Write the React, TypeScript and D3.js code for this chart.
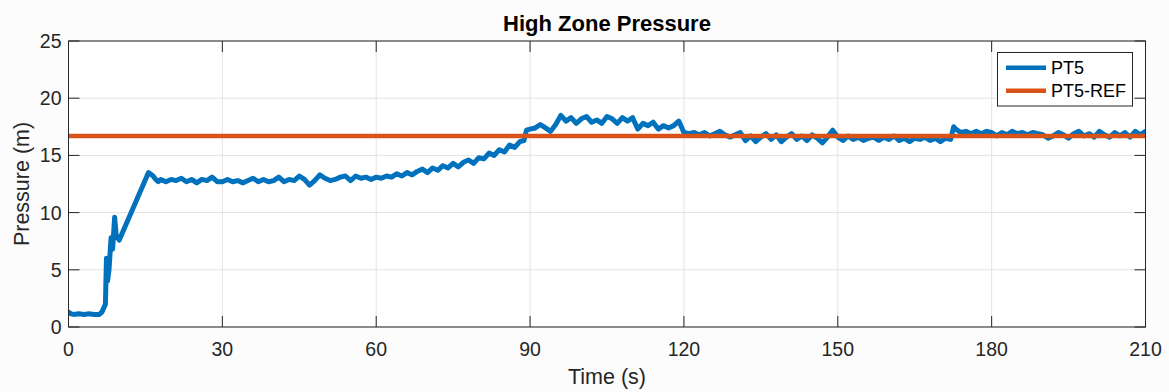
import React, { useEffect, useRef } from "react";
import * as d3 from "d3";

// PT5 pressure trace: [time (s), pressure (m)]
const pt5Series: [number, number][] = [
  [0, 1.3], [0.5, 1.15], [1, 1.1], [2, 1.15], [3, 1.1], [4, 1.15], [5, 1.1], [6, 1.1],
  [6.5, 1.3], [7, 1.8], [7.2, 2.0], [7.4, 6.0], [7.6, 4.0], [7.9, 5.0], [8.3, 7.8],
  [8.6, 6.8], [9.0, 9.6], [9.3, 8.0], [9.9, 7.6], [15.6, 13.5], [16.5, 13.2], [17, 12.9],
  [17.5, 12.7], [18, 12.9],
  [19, 12.7], [20, 12.9], [21, 12.8], [22, 13.0], [23, 12.7], [24, 12.9], [25, 12.6],
  [26, 12.9], [27, 12.8], [28, 13.1], [29, 12.7], [30, 12.7], [31, 12.9], [32, 12.7],
  [33, 12.8], [34, 12.6], [35, 12.8], [36, 13.0], [37, 12.7], [38, 12.9], [39, 12.7],
  [40, 12.8], [41, 13.1], [42, 12.7], [43, 12.9], [44, 12.8], [45, 13.2], [46, 12.9],
  [47, 12.4], [48, 12.8], [49, 13.3], [50, 13.0], [51, 12.8], [52, 12.9], [53, 13.1],
  [54, 13.2], [55, 12.8], [56, 13.2], [57, 13.0], [58, 13.1], [59, 12.9], [60, 13.1],
  [61, 13.0], [62, 13.2], [63, 13.1], [64, 13.4], [65, 13.2], [66, 13.5], [67, 13.3],
  [68, 13.6], [69, 13.8], [70, 13.5], [71, 13.9], [72, 13.7], [73, 14.1], [74, 13.9],
  [75, 14.3], [76, 14.0], [77, 14.4], [78, 14.6], [79, 14.3], [80, 14.8], [81, 14.7],
  [82, 15.2], [83, 15.0], [84, 15.5], [85, 15.3], [86, 15.9], [87, 15.7], [88, 16.2],
  [88.8, 16.3], [89.3, 17.2], [90, 17.3], [91, 17.4], [92, 17.7], [93, 17.4], [94, 17.1],
  [95, 17.7], [96, 18.5], [97, 18.0], [98, 18.3], [99, 17.8], [100, 18.2], [101, 18.4],
  [102, 17.9], [103, 18.1], [104, 17.8], [105, 18.4], [106, 18.2], [107, 17.8], [108, 18.3],
  [109, 18.0], [110, 18.3], [111, 17.3], [112, 17.8], [113, 17.6], [114, 17.9], [115, 17.3],
  [116, 17.6], [117, 17.4], [118, 17.6], [119, 18.0], [120, 17.0], [121, 16.9], [122, 17.0],
  [123, 16.8], [124, 17.0], [125, 16.7], [126, 16.9], [127, 17.1], [128, 16.8], [129, 16.6],
  [130, 16.8], [131, 17.0], [132, 16.3], [133, 16.7], [134, 16.2], [135, 16.6], [136, 16.9],
  [137, 16.4], [138, 16.8], [139, 16.2], [140, 16.6], [141, 16.9], [142, 16.4], [143, 16.7],
  [144, 16.3], [145, 16.8], [146, 16.5], [147, 16.1], [148, 16.6], [149, 17.2], [150, 16.6],
  [151, 16.3], [152, 16.7], [153, 16.4], [154, 16.6], [155, 16.3], [156, 16.5], [157, 16.6],
  [158, 16.3], [159, 16.6], [160, 16.4], [161, 16.7], [162, 16.3], [163, 16.5], [164, 16.2],
  [165, 16.5], [166, 16.4], [167, 16.6], [168, 16.3], [169, 16.5], [170, 16.2], [171, 16.5],
  [172, 16.4], [172.6, 17.5], [173, 17.3], [174, 17.0], [175, 17.1], [176, 16.9], [177, 17.1],
  [178, 16.9], [179, 17.1], [180, 17.0], [181, 16.7], [182, 17.0], [183, 16.8], [184, 17.1],
  [185, 16.9], [186, 17.0], [187, 16.8], [188, 17.0], [189, 16.9], [190, 16.8], [191, 16.5],
  [192, 16.7], [193, 17.0], [194, 16.8], [195, 16.5], [196, 16.9], [197, 17.1], [198, 16.7],
  [199, 16.9], [200, 16.6], [201, 17.1], [202, 16.8], [203, 16.6], [204, 17.0], [205, 16.7],
  [206, 17.0], [207, 16.6], [208, 17.1], [209, 16.8], [210, 17.1],
];

const refPressure = 16.7;
const xTicks = [0, 30, 60, 90, 120, 150, 180, 210];
const yTicks = [0, 5, 10, 15, 20, 25];
const legendItems = [
  { name: "PT5", color: "#0072BD" },
  { name: "PT5-REF", color: "#D95319" },
];

const WIDTH = 1169;
const HEIGHT = 392;
const FONT = "'Liberation Sans', Arial, Helvetica, sans-serif";
const AXIS_COLOR = "#262626";

const App: React.FC = () => {
  const svgRef = useRef<SVGSVGElement | null>(null);

  useEffect(() => {
    if (!svgRef.current) return;
    const margin = { top: 41, right: 23.5, bottom: 65, left: 68.5 };
    const svg = d3.select(svgRef.current);
    svg.selectAll("*").remove();

    const x = d3.scaleLinear().domain([0, 210]).range([margin.left, WIDTH - margin.right]);
    const y = d3.scaleLinear().domain([0, 25]).range([HEIGHT - margin.bottom, margin.top]);
    const [x0, x1] = x.range();
    const [y0, y1] = y.range();
    const tickLen = 11;

    svg.append("rect").attr("width", WIDTH).attr("height", HEIGHT).attr("fill", "#fcfcfc");
    svg.append("rect")
      .attr("x", x0).attr("y", y1)
      .attr("width", x1 - x0).attr("height", y0 - y1)
      .attr("fill", "#ffffff");

    svg.append("clipPath").attr("id", "plot-clip")
      .append("rect")
      .attr("x", x0).attr("y", y1)
      .attr("width", x1 - x0).attr("height", y0 - y1);

    // grid
    const grid = svg.append("g").attr("stroke", "#e3e3e3").attr("stroke-width", 1);
    xTicks.forEach((t) => {
      grid.append("line").attr("x1", x(t)).attr("x2", x(t)).attr("y1", y1).attr("y2", y0);
    });
    yTicks.forEach((t) => {
      grid.append("line").attr("x1", x0).attr("x2", x1).attr("y1", y(t)).attr("y2", y(t));
    });

    // data lines
    const plot = svg.append("g").attr("clip-path", "url(#plot-clip)");
    const line = d3.line<[number, number]>()
      .x((d) => x(d[0]))
      .y((d) => y(d[1]));

    plot.append("path")
      .attr("d", line(pt5Series))
      .attr("fill", "none")
      .attr("stroke", legendItems[0].color)
      .attr("stroke-width", 5)
      .attr("stroke-linejoin", "round")
      .attr("stroke-linecap", "round");

    plot.append("path")
      .attr("d", line([[0, refPressure], [210, refPressure]]))
      .attr("fill", "none")
      .attr("stroke", legendItems[1].color)
      .attr("stroke-width", 4.5);

    // axes box + inward ticks on all sides
    const axes = svg.append("g").attr("stroke", AXIS_COLOR).attr("stroke-width", 1).attr("fill", "none");
    axes.append("rect").attr("x", x0).attr("y", y1).attr("width", x1 - x0).attr("height", y0 - y1);
    xTicks.forEach((t) => {
      axes.append("line").attr("x1", x(t)).attr("x2", x(t)).attr("y1", y0).attr("y2", y0 - tickLen);
      axes.append("line").attr("x1", x(t)).attr("x2", x(t)).attr("y1", y1).attr("y2", y1 + tickLen);
    });
    yTicks.forEach((t) => {
      axes.append("line").attr("x1", x0).attr("x2", x0 + tickLen).attr("y1", y(t)).attr("y2", y(t));
      axes.append("line").attr("x1", x1).attr("x2", x1 - tickLen).attr("y1", y(t)).attr("y2", y(t));
    });

    // tick labels
    const labels = svg.append("g").attr("font-family", FONT).attr("fill", AXIS_COLOR).attr("font-size", 19.5);
    xTicks.forEach((t) => {
      labels.append("text")
        .attr("x", x(t)).attr("y", y0 + 29)
        .attr("text-anchor", "middle")
        .text(t);
    });
    yTicks.forEach((t) => {
      labels.append("text")
        .attr("x", x0 - 7).attr("y", y(t) + 7)
        .attr("text-anchor", "end")
        .text(t);
    });

    // axis titles
    svg.append("text")
      .attr("x", (x0 + x1) / 2).attr("y", 384)
      .attr("text-anchor", "middle")
      .attr("font-family", FONT).attr("font-size", 21.5).attr("fill", AXIS_COLOR)
      .text("Time (s)");

    svg.append("text")
      .attr("transform", `translate(29,${(y0 + y1) / 2}) rotate(-90)`)
      .attr("text-anchor", "middle")
      .attr("font-family", FONT).attr("font-size", 21.5).attr("fill", AXIS_COLOR)
      .text("Pressure (m)");

    svg.append("text")
      .attr("x", (x0 + x1) / 2).attr("y", 31)
      .attr("text-anchor", "middle")
      .attr("font-family", FONT).attr("font-size", 22).attr("font-weight", "bold").attr("fill", "#000")
      .text("High Zone Pressure");

    // legend
    const legend = svg.append("g");
    legend.append("rect")
      .attr("x", 997.5).attr("y", 52.5).attr("width", 135).attr("height", 53.5)
      .attr("fill", "#ffffff").attr("stroke", AXIS_COLOR).attr("stroke-width", 1);
    legendItems.forEach((item, i) => {
      const ly = 67.7 + i * 23;
      legend.append("line")
        .attr("x1", 1006).attr("x2", 1046).attr("y1", ly).attr("y2", ly)
        .attr("stroke", item.color).attr("stroke-width", 4.5);
      legend.append("text")
        .attr("x", 1051).attr("y", ly + 6.5)
        .attr("font-family", FONT).attr("font-size", 18).attr("fill", "#000")
        .text(item.name);
    });
  }, []);

  return (
    <svg
      ref={svgRef}
      width={WIDTH}
      height={HEIGHT}
      style={{ position: "absolute", left: 0, top: 0, display: "block" }}
    />
  );
};

export default App;
